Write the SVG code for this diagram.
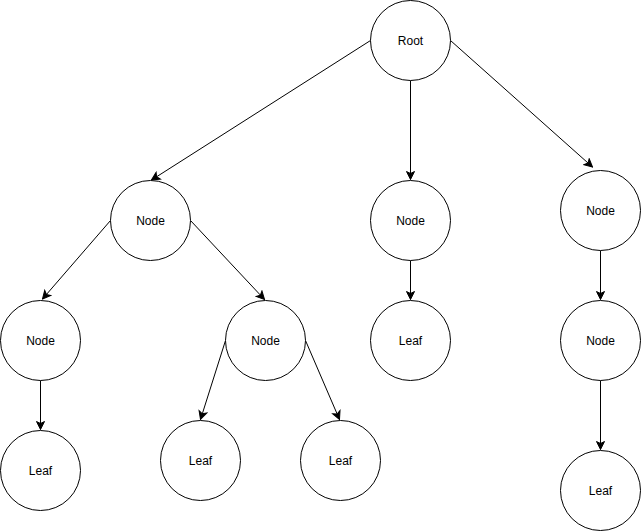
<svg xmlns="http://www.w3.org/2000/svg" width="641" height="531" viewBox="0 0 641 531">
<style>
.n circle{fill:#fff;stroke:#000;stroke-width:1}
.n text{font-family:"Liberation Sans",Arial,Helvetica,sans-serif;font-size:12px;fill:#000;text-anchor:middle;dominant-baseline:central}
.e line{stroke:#000;stroke-width:1;fill:none;marker-end:url(#arr)}
</style>
<defs>
<marker id="arr" markerUnits="userSpaceOnUse" viewBox="-9 -5 10 10" refX="0" refY="0" markerWidth="10" markerHeight="10" orient="auto">
<path d="M0,0 L-8,-4 L-6,0 L-8,4 Z" fill="#000" stroke="#000" stroke-width="1" stroke-linejoin="miter"/>
</marker>
</defs>
<rect width="641" height="531" fill="#fff"/>
<g class="e" id="edges">
<line x1="370.5" y1="40.5" x2="151.5" y2="180"/>
<line x1="410.5" y1="80.5" x2="410.5" y2="179.5"/>
<line x1="450.5" y1="40.5" x2="592.5" y2="167"/>
<line x1="110.5" y1="220.5" x2="42.5" y2="299"/>
<line x1="190.5" y1="220.5" x2="264.5" y2="299.5"/>
<line x1="410.5" y1="260.5" x2="410.5" y2="299.5"/>
<line x1="600.5" y1="250.5" x2="600.5" y2="299.5"/>
<line x1="40.5" y1="380.5" x2="40.5" y2="429.5"/>
<line x1="225.5" y1="340.5" x2="200.5" y2="419.5"/>
<line x1="305.5" y1="340.5" x2="339.5" y2="419.5"/>
<line x1="600.5" y1="380.5" x2="600.5" y2="449.5"/>
</g>
<g class="n" id="root"><circle cx="410.5" cy="40.5" r="40"/><text x="410.5" y="41">Root</text></g>
<g class="n" id="nodeL"><circle cx="150.5" cy="220.5" r="40"/><text x="150.5" y="221">Node</text></g>
<g class="n" id="nodeM"><circle cx="410.5" cy="220.5" r="40"/><text x="410.5" y="221">Node</text></g>
<g class="n" id="nodeR"><circle cx="600.5" cy="210.5" r="40"/><text x="600.5" y="211">Node</text></g>
<g class="n" id="nodeLL"><circle cx="40.5" cy="340.5" r="40"/><text x="40.5" y="341">Node</text></g>
<g class="n" id="nodeLR"><circle cx="265.5" cy="340.5" r="40"/><text x="265.5" y="341">Node</text></g>
<g class="n" id="leafM"><circle cx="410.5" cy="340.5" r="40"/><text x="410.5" y="341">Leaf</text></g>
<g class="n" id="nodeR2"><circle cx="600.5" cy="340.5" r="40"/><text x="600.5" y="341">Node</text></g>
<g class="n" id="leafLL"><circle cx="40.5" cy="470.5" r="40"/><text x="40.5" y="471">Leaf</text></g>
<g class="n" id="leafLR1"><circle cx="200.5" cy="460.5" r="40"/><text x="200.5" y="461">Leaf</text></g>
<g class="n" id="leafLR2"><circle cx="340.5" cy="460.5" r="40"/><text x="340.5" y="461">Leaf</text></g>
<g class="n" id="leafR"><circle cx="600.5" cy="490.5" r="40"/><text x="600.5" y="491">Leaf</text></g>
</svg>
